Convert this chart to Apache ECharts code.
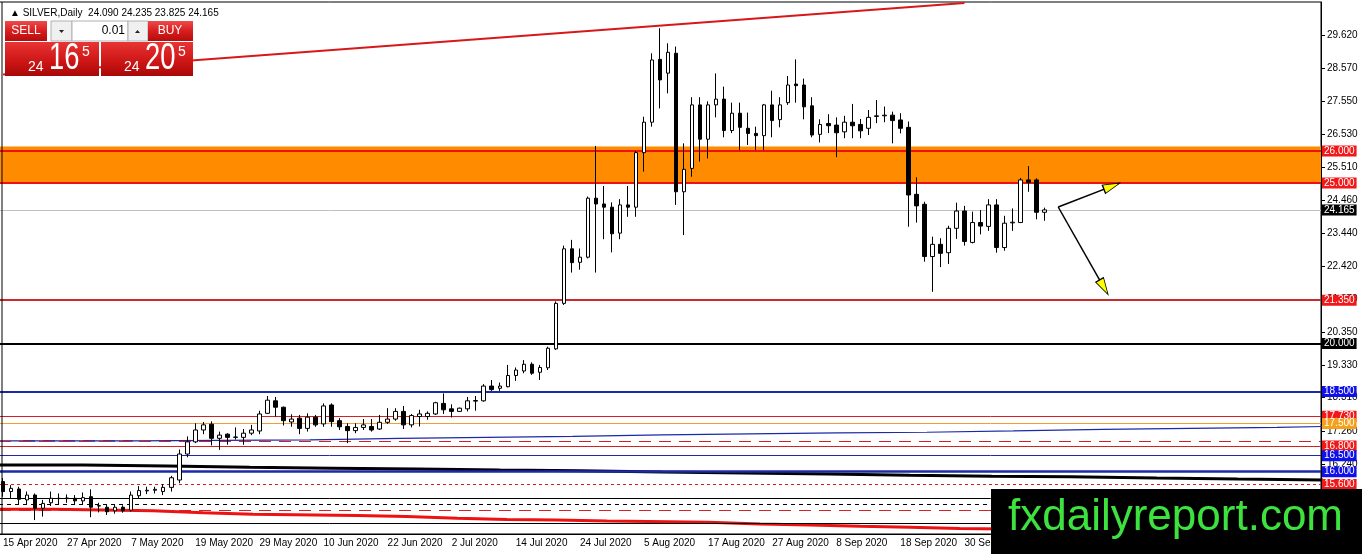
<!DOCTYPE html>
<html>
<head>
<meta charset="utf-8">
<script src="https://cdn.jsdelivr.net/npm/echarts@6/dist/echarts.min.js"></script>
<style>
  html, body { margin: 0; padding: 0; background: #fff; }
  #main { width: 1362px; height: 554px; }
</style>
</head>
<body>
<div id="main"></div>
<script>
// daily bars, [open, high, low, close]
var candles = [
  [15.69, 15.80, 15.22, 15.38], [15.38, 15.58, 15.17, 15.48], [15.46, 15.53, 14.96, 15.14], [15.12, 15.38, 14.99, 15.27],
  [15.27, 15.32, 14.49, 14.86], [14.86, 15.12, 14.60, 15.01], [15.03, 15.38, 14.93, 15.17], [15.17, 15.32, 14.96, 15.16],
  [15.16, 15.29, 15.03, 15.18], [15.17, 15.27, 14.96, 15.09], [15.09, 15.35, 14.99, 15.19], [15.22, 15.45, 14.58, 14.89],
  [14.93, 15.03, 14.73, 14.94], [14.89, 14.99, 14.65, 14.75], [14.78, 14.99, 14.69, 14.89], [14.89, 14.95, 14.72, 14.78],
  [14.80, 15.38, 14.76, 15.27], [15.25, 15.55, 15.17, 15.41], [15.40, 15.53, 15.30, 15.42], [15.42, 15.53, 15.32, 15.45],
  [15.38, 15.61, 15.27, 15.51], [15.51, 15.87, 15.38, 15.81], [15.74, 16.69, 15.64, 16.55], [16.55, 17.10, 16.45, 16.93],
  [16.93, 17.51, 16.89, 17.30], [17.30, 17.55, 17.17, 17.46], [17.48, 17.57, 16.82, 17.04], [17.04, 17.25, 16.68, 17.14],
  [17.17, 17.20, 16.84, 17.07], [17.07, 17.38, 17.00, 17.08], [17.07, 17.33, 16.84, 17.20], [17.20, 17.46, 17.14, 17.30],
  [17.27, 17.90, 17.17, 17.80], [17.82, 18.36, 17.80, 18.23], [18.21, 18.33, 17.72, 18.01], [18.01, 18.03, 17.44, 17.59],
  [17.55, 17.79, 17.40, 17.64], [17.67, 17.77, 17.17, 17.35], [17.35, 17.82, 17.25, 17.70], [17.70, 17.77, 17.40, 17.46],
  [17.49, 18.13, 17.40, 18.05], [18.08, 18.13, 17.40, 17.56], [17.59, 17.67, 17.30, 17.40], [17.41, 17.51, 16.89, 17.28],
  [17.28, 17.51, 17.20, 17.38], [17.38, 17.64, 17.30, 17.46], [17.41, 17.64, 17.25, 17.30], [17.33, 17.77, 17.30, 17.54],
  [17.54, 17.98, 17.49, 17.64], [17.64, 17.98, 17.59, 17.88], [17.88, 18.05, 17.33, 17.46], [17.46, 17.80, 17.38, 17.75],
  [17.72, 17.93, 17.41, 17.80], [17.72, 17.88, 17.62, 17.82], [17.80, 18.18, 17.77, 18.15], [18.13, 18.44, 17.80, 17.93],
  [17.96, 18.10, 17.69, 17.88], [17.88, 18.00, 17.86, 17.98], [17.96, 18.33, 17.88, 18.21], [18.20, 18.36, 17.90, 18.22],
  [18.21, 18.73, 18.18, 18.67], [18.67, 18.86, 18.52, 18.56], [18.60, 18.78, 18.52, 18.67], [18.65, 19.33, 18.63, 19.00],
  [19.00, 19.25, 18.83, 19.17], [19.14, 19.48, 19.07, 19.35], [19.35, 19.41, 19.02, 19.07], [19.10, 19.33, 18.86, 19.25],
  [19.24, 19.90, 19.17, 19.85], [19.83, 21.31, 19.80, 21.25], [21.25, 23.05, 21.20, 22.95], [22.95, 23.23, 22.21, 22.52],
  [22.53, 22.96, 22.30, 22.69], [22.69, 24.58, 22.65, 24.53], [24.53, 26.16, 22.21, 24.35], [24.35, 24.91, 23.25, 24.25],
  [24.25, 24.40, 22.84, 23.42], [23.44, 24.50, 23.25, 24.32], [24.32, 24.91, 23.95, 24.25], [24.25, 26.00, 23.95, 25.95],
  [25.95, 27.07, 25.36, 26.90], [26.90, 29.05, 26.76, 28.84], [28.86, 29.83, 27.33, 28.22], [28.43, 29.36, 27.80, 29.08],
  [29.05, 29.26, 24.32, 24.73], [24.73, 26.24, 23.38, 25.43], [25.46, 27.68, 25.20, 27.44], [27.44, 27.68, 25.67, 26.37],
  [26.37, 27.55, 25.77, 27.44], [27.44, 28.42, 27.05, 27.62], [27.62, 28.01, 26.43, 26.64], [26.64, 27.51, 26.56, 27.18],
  [27.18, 27.51, 26.03, 26.74], [26.71, 27.20, 26.19, 26.55], [26.55, 26.76, 26.03, 26.48], [26.48, 27.47, 26.03, 27.44],
  [27.44, 27.88, 26.43, 26.95], [26.98, 27.68, 26.74, 27.44], [27.51, 28.34, 27.44, 28.06], [28.09, 28.86, 27.51, 28.04],
  [28.06, 28.26, 26.99, 27.38], [27.41, 27.68, 26.43, 26.50], [26.52, 26.99, 26.27, 26.83], [26.86, 27.15, 26.56, 26.79],
  [26.81, 27.05, 25.81, 26.57], [26.60, 27.10, 26.40, 26.90], [26.90, 27.47, 26.40, 26.79], [26.83, 27.00, 26.40, 26.63],
  [26.71, 27.28, 26.50, 27.05], [27.08, 27.59, 26.87, 27.10], [27.10, 27.39, 26.90, 27.12], [27.12, 27.23, 26.24, 26.95],
  [26.97, 27.18, 26.55, 26.71], [26.74, 26.92, 23.64, 24.63], [24.65, 25.18, 23.77, 24.29], [24.34, 24.42, 22.55, 22.71],
  [22.71, 23.33, 21.61, 23.09], [23.09, 23.28, 22.38, 22.81], [22.83, 23.67, 22.48, 23.59], [23.59, 24.39, 23.26, 24.13],
  [24.13, 24.29, 23.05, 23.18], [23.15, 24.11, 23.12, 23.77], [23.77, 24.16, 23.40, 23.66], [23.65, 24.50, 23.51, 24.32],
  [24.32, 24.50, 22.83, 22.99], [22.99, 23.98, 22.89, 23.75], [23.76, 24.21, 23.51, 23.78], [23.77, 25.16, 23.77, 25.10],
  [25.10, 25.53, 24.73, 25.02], [25.10, 25.15, 23.87, 24.09], [24.090, 24.235, 23.825, 24.165]
];
var barCount = 165;          // slots on the time axis, incl. empty space on the right
var firstDay = '2020-04-15';
var bid = 24.165, ask = 24.205;

// price axis range and tick values
var priceMin = 14.056, priceMax = 30.649;
var priceTicks = [29.62, 28.57, 27.55, 26.53, 25.51, 24.46, 23.44, 22.42, 21.37, 20.35, 19.33, 18.31, 17.26, 16.24, 15.22, 14.20];

// resistance zone
var zoneLow = 25.0, zoneHigh = 26.0, zoneTop = 26.14;

// tagged horizontal levels
var levels = [26.0, 25.0, 21.35, 20.0, 18.5, 17.73, 17.5, 16.8, 16.5, 16.0, 15.6];
var levelColors = ['#ee1111', '#ee1111', '#cc2a2a', '#000000', '#1a2aa8', '#d42020', '#f0a030', '#d42020', '#1a2aa8', '#1a2aa8', '#d42020'];
var levelWidths = [2, 2, 2, 2, 2, 1, 1, 1, 1, 2.5, 1];
var levelDash = ['solid', 'solid', 'solid', 'solid', 'solid', 'solid', 'solid', 'solid', 'solid', 'solid', [3, 3]];
var tagColors = ['#f01818', '#f01818', '#f01818', '#000000', '#1010e8', '#f01818', '#f5a01a', '#f01818', '#1010e8', '#1010e8', '#f01818'];

// untagged levels
var plainLevels = [16.96, 15.17, 14.98, 14.80, 14.40];
var plainColors = ['#d42020', '#000000', '#000000', '#d42020', '#000000'];
var plainDash = [[12, 8], 'solid', [4, 4], [12, 8], 'solid'];

// moving averages, [bar index, value] break points
var blueMa = [[-1, 16.96], [16.2, 16.99], [38.3, 17.04], [49.5, 17.07], [60.4, 17.10], [71.1, 17.15], [82.3, 17.18],
  [93.2, 17.21], [104.2, 17.23], [115.3, 17.27], [126.1, 17.32], [137.3, 17.35], [148.2, 17.38], [159, 17.41], [165, 17.41]];
var blackMa = [[-1, 16.21], [10, 16.18], [20.5, 16.14], [30.8, 16.11], [41.2, 16.08], [51.7, 16.05], [62, 16.03], [72, 15.99],
  [82.3, 15.96], [92.6, 15.93], [103, 15.89], [113.2, 15.86], [123.4, 15.84], [133.2, 15.80], [144, 15.77], [154.1, 15.74], [165, 15.74]];
var redMa = [[-1, 14.83], [6.2, 14.78], [18.7, 14.72], [25, 14.67], [31.2, 14.63], [44.2, 14.60], [50.4, 14.55], [56.7, 14.51],
  [62.9, 14.49], [69.1, 14.46], [75.4, 14.42], [88, 14.37], [94.5, 14.34], [100.7, 14.30], [107, 14.27], [113.2, 14.23],
  [119.4, 14.20], [130, 14.16], [145, 14.12], [165, 14.08]];
var purpleSegment = [[2.5, 16.96], [16.2, 16.96]];

// drawn trend line and forecast arrows
var trendLine = [[0, 28.39], [120, 30.62]];
var arrowFrom = [131.7, 24.255];
var arrowTo = [[139.4, 25.0], [137.8, 21.57]];
var arrowHeads = [[138.4, 24.904], [137.4, 21.75]];

var font = "'Liberation Sans', Arial, sans-serif";
var months = ['Jan', 'Feb', 'Mar', 'Apr', 'May', 'Jun', 'Jul', 'Aug', 'Sep', 'Oct', 'Nov', 'Dec'];
var dates = [];
var d = new Date(firstDay + 'T00:00:00Z');
while (dates.length < barCount) {
  var wd = d.getUTCDay();
  if (wd !== 0 && wd !== 6) {
    dates.push(d.getUTCDate() + ' ' + months[d.getUTCMonth()] + ' ' + d.getUTCFullYear());
  }
  d.setUTCDate(d.getUTCDate() + 1);
}

var last = candles[candles.length - 1];
var header = '\u25B2 SILVER,Daily  ' + last.map(function (v) { return v.toFixed(3); }).join(' ');

var levelLines = levels.map(function (v, i) {
  return {
    yAxis: v,
    lineStyle: { color: levelColors[i], width: levelWidths[i], type: levelDash[i] },
    label: {
      show: true, position: 'end', distance: 1, formatter: v.toFixed(3),
      color: '#fff', backgroundColor: tagColors[i], padding: [1, 2, 0, 2],
      fontSize: 10, lineHeight: 10, fontFamily: font
    }
  };
});
plainLevels.forEach(function (v, i) {
  levelLines.push({
    yAxis: v,
    lineStyle: { color: plainColors[i], width: 1, type: plainDash[i] },
    label: { show: false }
  });
});
levelLines.push({
  yAxis: last[3],
  lineStyle: { color: '#c0c0c0', width: 1, type: 'solid' },
  label: {
    show: true, position: 'end', distance: 1, formatter: last[3].toFixed(3),
    color: '#fff', backgroundColor: '#000', padding: [1, 2, 0, 2],
    fontSize: 10, lineHeight: 10, fontFamily: font
  }
});

var redGrad = new echarts.graphic.LinearGradient(0, 0, 0, 1, [
  { offset: 0, color: '#ef4a4a' }, { offset: 0.5, color: '#d81e1e' }, { offset: 1, color: '#b50c0c' }
]);
var boxGrad = new echarts.graphic.LinearGradient(0, 0, 0, 1, [
  { offset: 0, color: '#e83434' }, { offset: 0.6, color: '#cc1414' }, { offset: 1, color: '#a80808' }
]);

function priceBox(x, w, price) {
  var s = price.toFixed(3);
  return [
    { type: 'rect', shape: { x: x, y: 42, width: w, height: 34 }, style: { fill: boxGrad }, z: 100 },
    { type: 'text', x: x + 23, y: 67, z: 101,
      style: { text: s.slice(0, 2), font: '14px ' + font, fill: '#fff', textVerticalAlign: 'middle', verticalAlign: 'middle' } },
    { type: 'text', x: x + 44, y: 59, scaleX: 0.74, z: 101,
      style: { text: s.slice(3, 5), font: '37px ' + font, fill: '#fff', textVerticalAlign: 'middle', verticalAlign: 'middle' } },
    { type: 'text', x: x + 77, y: 52, z: 101,
      style: { text: s.slice(5), font: '14px ' + font, fill: '#fff', textVerticalAlign: 'middle', verticalAlign: 'middle' } }
  ];
}

function smallText(x, y, text, color, align) {
  return { type: 'text', x: x, y: y, z: 101,
    style: { text: text, font: '12px ' + font, fill: color, textAlign: align, align: align,
      textVerticalAlign: 'middle', verticalAlign: 'middle' } };
}

var graphics = [
  { type: 'line', shape: { x1: 2, y1: 2, x2: 2, y2: 534 }, style: { stroke: '#000', lineWidth: 1 }, z: 50 },
  { type: 'rect', shape: { x: 5, y: 21, width: 42, height: 20 }, style: { fill: redGrad }, z: 100 },
  smallText(26, 31, 'SELL', '#fff', 'center'),
  { type: 'rect', shape: { x: 51, y: 21, width: 21, height: 20 }, style: { fill: '#f0f0f0', stroke: '#b0b0b0' }, z: 100 },
  { type: 'polygon', shape: { points: [[59, 30], [64, 30], [61.5, 33]] }, style: { fill: '#222' }, z: 101 },
  { type: 'rect', shape: { x: 72, y: 21, width: 56, height: 20 }, style: { fill: '#fff', stroke: '#b0b0b0' }, z: 100 },
  smallText(125, 31, '0.01', '#000', 'right'),
  { type: 'rect', shape: { x: 128, y: 21, width: 20, height: 20 }, style: { fill: '#f0f0f0', stroke: '#b0b0b0' }, z: 100 },
  { type: 'polygon', shape: { points: [[135, 33], [140, 33], [137.5, 30]] }, style: { fill: '#222' }, z: 101 },
  { type: 'rect', shape: { x: 148, y: 21, width: 45, height: 20 }, style: { fill: redGrad }, z: 100 },
  smallText(170, 31, 'BUY', '#fff', 'center'),
  { type: 'rect', shape: { x: 991, y: 489, width: 371, height: 65 }, style: { fill: '#000' }, z: 100 },
  { type: 'text', x: 1008, y: 518, z: 101,
    style: { text: 'fxdailyreport.com', font: '44px ' + font, fill: '#3ee23e', textVerticalAlign: 'middle', verticalAlign: 'middle' } }
].concat(priceBox(5, 94, bid), priceBox(101, 92, ask));

var chart = echarts.init(document.getElementById('main'));
chart.setOption({
  backgroundColor: '#fff',
  animation: false,
  title: {
    text: header, left: 5, top: 3,
    textStyle: { fontSize: 10, fontWeight: 'normal', color: '#000', fontFamily: font }
  },
  grid: {
    left: -1, right: 41, top: 2, bottom: 20, outerBoundsMode: 'none',
    show: true, borderColor: '#000', borderWidth: 1, backgroundColor: 'transparent'
  },
  xAxis: [
    {
      type: 'category', data: dates, boundaryGap: true,
      axisLine: { onZero: false, lineStyle: { color: '#000', width: 1 } },
      axisTick: { interval: 7, alignWithLabel: true, length: 4, lineStyle: { color: '#000' } },
      axisLabel: { interval: 7, align: 'left', color: '#000', fontSize: 10, fontFamily: font, margin: 4 },
      splitLine: { show: false }
    },
    { type: 'value', min: -0.5, max: barCount - 0.5, show: false }
  ],
  yAxis: {
    type: 'value', position: 'right', min: priceMin, max: priceMax,
    axisLine: { show: true, onZero: false, lineStyle: { color: '#000' } },
    axisTick: { show: true, customValues: priceTicks, length: 4, lineStyle: { color: '#000' } },
    axisLabel: {
      customValues: priceTicks, color: '#000', fontSize: 10, fontFamily: font, margin: 6,
      formatter: function (v) { return v.toFixed(3); }
    },
    splitLine: { show: false }
  },
  series: [
    {
      type: 'line', xAxisIndex: 1, data: [], z: 1, silent: true,
      markArea: {
        silent: true, itemStyle: { color: '#ff8c00', opacity: 1 },
        data: [[{ yAxis: zoneLow }, { yAxis: zoneTop }]]
      }
    },
    {
      type: 'line', xAxisIndex: 1, data: [], z: 2, silent: true,
      markLine: { silent: true, symbol: ['none', 'none'], animation: false, data: levelLines }
    },
    {
      type: 'line', xAxisIndex: 1, data: purpleSegment, z: 2, symbol: 'none', silent: true,
      lineStyle: { color: '#7a2ca0', width: 1.5, type: [12, 8] }
    },
    {
      type: 'line', xAxisIndex: 1, data: blueMa, step: 'end', symbol: 'none', z: 4, silent: true,
      lineStyle: { color: '#1a2aa8', width: 1.2 }
    },
    {
      type: 'line', xAxisIndex: 1, data: blackMa, step: 'end', symbol: 'none', z: 4, silent: true,
      lineStyle: { color: '#000', width: 3 }
    },
    {
      type: 'line', xAxisIndex: 1, data: redMa, step: 'end', symbol: 'none', z: 4, silent: true,
      lineStyle: { color: '#ee1111', width: 3 }
    },
    {
      type: 'candlestick', data: candles.map(function (r) { return [r[0], r[3], r[2], r[1]]; }),
      barWidth: 4, z: 5,
      itemStyle: { color: '#fff', color0: '#000', borderColor: '#000', borderColor0: '#000', borderWidth: 1 }
    },
    {
      type: 'line', xAxisIndex: 1, data: trendLine, symbol: 'none', z: 4, silent: true,
      lineStyle: { color: '#d81818', width: 2 }
    },
    {
      type: 'line', xAxisIndex: 1, data: [], z: 6, silent: true,
      markLine: {
        silent: true, symbol: ['none', 'none'], animation: false,
        lineStyle: { color: '#000', width: 1.5, type: 'solid' }, label: { show: false },
        data: arrowTo.map(function (p) { return [{ coord: arrowFrom }, { coord: p }]; })
      }
    },
    {
      type: 'scatter', xAxisIndex: 1, z: 7, silent: true, symbol: 'triangle', symbolSize: [9, 17],
      itemStyle: { color: '#ffff00', borderColor: '#000', borderWidth: 1, opacity: 1 },
      data: [
        { value: arrowHeads[0], symbolRotate: -69 },
        { value: arrowHeads[1], symbolRotate: -150 }
      ]
    }
  ],
  graphic: graphics
});
</script>
</body>
</html>
